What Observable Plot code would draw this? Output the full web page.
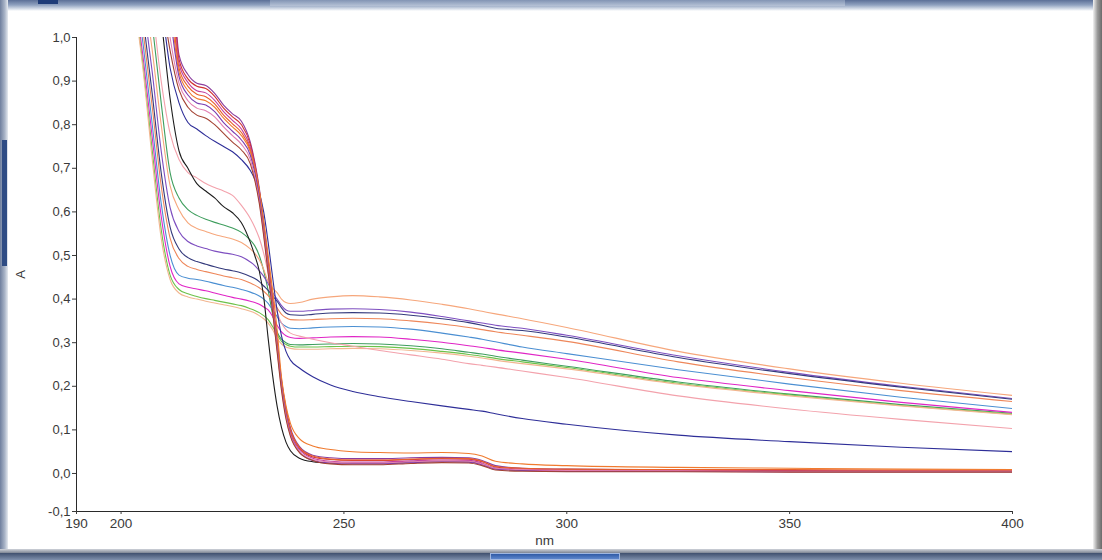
<!DOCTYPE html>
<html><head><meta charset="utf-8">
<script src="https://cdn.jsdelivr.net/npm/d3@7"></script>
<script src="https://cdn.jsdelivr.net/npm/@observablehq/plot@0.6"></script>
<style>
html,body{margin:0;padding:0;background:#fff;}
#wrap{position:relative;width:1102px;height:560px;overflow:hidden;background:#fff;}
#chart{position:absolute;left:0;top:0;}
.f{position:absolute;}
</style></head><body>
<div id="wrap">
  <div id="chart"></div>
  <div class="f" style="left:0;top:0;width:1102px;height:11px;background:linear-gradient(#5b6f97,#8fa1bf 45%,#dfe5ee 85%,rgba(255,255,255,0))"></div>
  <div class="f" style="left:270px;top:0;width:575px;height:6px;background:linear-gradient(#8294b4,#b6c2d6)"></div>
  <div class="f" style="left:38px;top:0;width:20px;height:4px;background:#1f3c78"></div>
  <div class="f" style="left:0;top:0;width:8px;height:560px;background:linear-gradient(90deg,#6f7f9e,#aab5c8 60%,#e6eaf0)"></div>
  <div class="f" style="left:2px;top:140px;width:5px;height:126px;background:#2f4c84"></div>
  <div class="f" style="left:1093px;top:0;width:9px;height:560px;background:linear-gradient(90deg,#f2f2f2,#9a9a9a 50%,#6a6a6a)"></div>
  <div class="f" style="left:0;top:549px;width:1102px;height:4px;background:linear-gradient(#cfd3da,#7d8594)"></div>
  <div class="f" style="left:0;top:553px;width:1102px;height:7px;background:linear-gradient(#3f4f6e,#7f90ad)"></div>
  <div class="f" style="left:490px;top:553px;width:130px;height:7px;background:linear-gradient(#2f5aa6,#5d86cc);border:1px solid #9fb6e0;box-sizing:border-box"></div>
</div>
<script>
// wavelength grid (nm)
const wavelengths = [203,205,207,209,211, 213,215,217,219,221, 223,225,227,229,230, 231,232,233,234,235, 236,237,238,240,243, 247,252,258,265,272, 278,281,284,290,300, 325,350,375,400];

const xTicks = [190, 200, 250, 300, 350, 400];
const yTicks = [-0.1, 0, 0.1, 0.2, 0.3, 0.4, 0.5, 0.6, 0.7, 0.8, 0.9, 1.0];

// Group A spectra (stay high after 240 nm)
const A1 = [1.35,1.18,1.03,.85,.69, .632,.605,.592,.583,.576, .57,.563,.553,.535,.522, .50,.465,.42,.365,.325, .308,.30,.296,.295,.296, .297,.298,.297,.293,.286, .278,.274,.269,.26,.246, .21,.182,.158,.138];
const A2 = [1.3,1.12,.97,.80,.66, .605,.575,.562,.555,.548, .543,.538,.53,.515,.505, .49,.468,.44,.425,.415, .40,.392,.39,.392,.40, .405,.408,.405,.398,.388, .378,.372,.366,.355,.335, .28,.24,.207,.179];
const A3 = [1.25,1.08,.92,.74,.61, .555,.532,.522,.516,.51, .506,.503,.497,.485,.477, .465,.452,.435,.415,.40, .385,.375,.372,.372,.374, .377,.378,.376,.37,.36, .35,.345,.34,.333,.317, .27,.232,.20,.172];
const A4 = [1.2,1.04,.87,.69,.565, .515,.495,.486,.48,.474, .469,.465,.46,.452,.447, .44,.43,.42,.407,.395, .38,.368,.364,.363,.365, .368,.369,.368,.363,.355, .346,.34,.333,.328,.313, .266,.229,.198,.17];
const A5 = [1.17,1.01,.84,.66,.54, .493,.475,.468,.463,.458, .453,.449,.445,.437,.432, .426,.418,.408,.395,.38, .365,.357,.353,.352,.353, .355,.356,.355,.35,.343, .335,.33,.325,.317,.303, .256,.22,.19,.165];
const A6 = [1.14,.98,.80,.62,.50, .455,.448,.445,.441,.436, .431,.427,.422,.416,.412, .407,.40,.39,.375,.36, .345,.337,.333,.332,.334, .336,.337,.336,.331,.322, .313,.308,.302,.29,.275, .238,.205,.175,.149];
const A7 = [1.11,.95,.77,.59,.475, .435,.427,.423,.419,.414, .409,.404,.40,.395,.392, .388,.382,.375,.36,.34, .325,.316,.312,.31,.311, .313,.314,.313,.308,.301, .293,.289,.284,.276,.262, .22,.19,.163,.14];
const A8 = [1.09,.93,.74,.56,.455, .422,.412,.406,.401,.397, .393,.389,.385,.378,.374, .369,.362,.353,.337,.318, .303,.296,.292,.29,.29, .291,.292,.291,.287,.28, .273,.269,.264,.256,.243, .207,.18,.156,.136];
const A9 = [1.08,.92,.72,.54,.445, .414,.405,.40,.395,.391, .387,.383,.378,.372,.368, .362,.355,.345,.33,.31, .297,.29,.287,.285,.285, .286,.287,.286,.282,.276, .269,.265,.26,.252,.24, .205,.178,.155,.135];

// intermediate spectra
const P1 = [1.4,1.22,1.07,.90,.78, .72,.69,.678,.665,.656, .648,.638,.615,.585,.565, .54,.505,.46,.41,.37, .345,.33,.322,.315,.308, .30,.292,.282,.272,.262, .252,.248,.244,.235,.22, .178,.148,.124,.103];
const K1 = [1.45,1.3,1.17,1.04,.86, .74,.70,.665,.648,.632, .612,.598,.575,.53,.50, .465,.405,.31,.225,.155, .105,.072,.052,.035,.027, .024,.023,.023,.026,.028, .027,.022,.012,.008,.006, .005,.005,.005,.005];
const N1 = [1.5,1.35,1.2,1.08,.93, .85,.805,.79,.775,.762, .75,.738,.72,.695,.675, .645,.60,.53,.45,.375, .315,.28,.26,.242,.222, .203,.188,.176,.165,.155, .147,.143,.137,.126,.113, .088,.073,.06,.05];

// Group B spectra (drop to baseline)
const B1 = [1.9,1.75,1.6,1.45,1.25, .96,.915,.895,.89,.872, .845,.825,.808,.76,.715, .655,.575,.49,.40,.305, .215,.15,.105,.062,.042, .036,.034,.034,.036,.037, .036,.03,.018,.012,.01, .008,.007,.006,.005];
const B2 = [1.85,1.7,1.55,1.4,1.2, .95,.905,.888,.883,.865, .838,.818,.80,.755,.71, .65,.57,.485,.395,.30, .21,.145,.10,.058,.038, .032,.03,.03,.032,.034, .033,.027,.015,.01,.008, .007,.006,.006,.006];
const B3 = [1.8,1.65,1.5,1.35,1.15, .94,.897,.878,.873,.856, .83,.81,.79,.748,.705, .645,.565,.48,.39,.295, .205,.14,.095,.055,.035, .028,.026,.026,.029,.031, .03,.024,.012,.008,.006, .005,.004,.004,.004];
const B4 = [1.75,1.6,1.45,1.3,1.12, .93,.888,.87,.864,.848, .822,.802,.782,.742,.70, .64,.56,.478,.39,.297, .21,.145,.10,.06,.04, .033,.031,.031,.033,.035, .034,.028,.016,.012,.01, .009,.009,.008,.008];
const B5 = [1.7,1.55,1.4,1.25,1.08, .92,.878,.86,.855,.84, .815,.795,.775,.738,.70, .65,.58,.50,.42,.33, .22,.155,.115,.08,.063, .055,.05,.048,.047,.048, .046,.04,.028,.022,.018, .014,.012,.01,.009];
const B6 = [1.65,1.5,1.35,1.2,1.05, .91,.868,.85,.845,.83, .805,.785,.765,.73,.69, .635,.555,.47,.38,.29, .20,.135,.09,.05,.03, .024,.022,.022,.025,.027, .026,.02,.01,.007,.005, .005,.004,.004,.004];
const B7 = [1.6,1.45,1.3,1.15,1.0, .895,.855,.838,.832,.818, .795,.775,.755,.72,.68, .625,.55,.465,.375,.285, .195,.13,.088,.05,.032, .026,.024,.024,.027,.029, .028,.022,.012,.009,.007, .006,.005,.005,.005];
const B8 = [1.55,1.4,1.25,1.1,.97, .88,.84,.822,.815,.80, .78,.76,.742,.71,.672, .62,.545,.46,.37,.28, .19,.125,.085,.048,.03, .022,.02,.02,.023,.025, .024,.018,.008,.005,.004, .004,.003,.003,.003];

const seriesNames  = ["A1","A2","A3","A4","A5","A6","A7","A8","A9","P1","K1","N1","B1","B2","B3","B4","B5","B6","B7","B8"];
const seriesValues = [A1,A2,A3,A4,A5,A6,A7,A8,A9,P1,K1,N1,B1,B2,B3,B4,B5,B6,B7,B8];
const seriesColors = ["#3f9e5e","#f6a77c","#7e4fc0","#343a7c","#ee875a","#4b8fd2","#e025c6","#6cc24a","#f2b690",
                      "#f3a2ac","#1c1c1c","#2e2e98",
                      "#8a3d9e","#d23030","#c2409e","#e8602c","#f07a2e","#7a3cb0","#e27fb2","#a34232"];

seriesValues.forEach((v, i) => { if (v.length !== wavelengths.length) throw new Error(seriesNames[i] + " length " + v.length); });

const rows = seriesNames.flatMap((name, i) => wavelengths.map((nm, j) => ({name, nm, A: seriesValues[i][j]})));
const fmt = d => d.toFixed(1).replace(".", ",");

const chart = Plot.plot({
  width: 1102, height: 560,
  marginLeft: 76, marginRight: 90, marginTop: 37, marginBottom: 49,
  style: {background: "transparent", fontFamily: "'Liberation Sans', Arial, sans-serif", color: "#3a3a3a"},
  x: {domain: [190, 400], range: [76, 1012]},
  // the instrument's axis squeezes the span below zero
  y: {domain: [-0.0872, 1], range: [511, 37], transform: v => (v < 0 ? v * 0.872 : v)},
  color: {domain: seriesNames, range: seriesColors},
  marks: [
    Plot.line(rows, {x: "nm", y: "A", z: "name", stroke: "name", strokeWidth: 1.1, curve: "monotone-x", clip: true}),
    Plot.ruleX([190], {stroke: "#2a2a2a"}),
    Plot.ruleY([-0.1], {stroke: "#2a2a2a"}),
    Plot.axisY(yTicks, {tickFormat: fmt, tickSize: 4, tickPadding: 2, fontSize: 13, label: "A", labelAnchor: "center", labelOffset: 61, labelArrow: "none"}),
    Plot.axisX(xTicks, {tickSize: 3, tickPadding: 4, fontSize: 13.5, fontFamily: "'Liberation Sans Narrow', 'Liberation Sans', Arial, sans-serif", label: "nm", labelAnchor: "center", labelOffset: 33, labelArrow: "none"})
  ]
});
document.getElementById("chart").appendChild(chart);
</script>
</body></html>
